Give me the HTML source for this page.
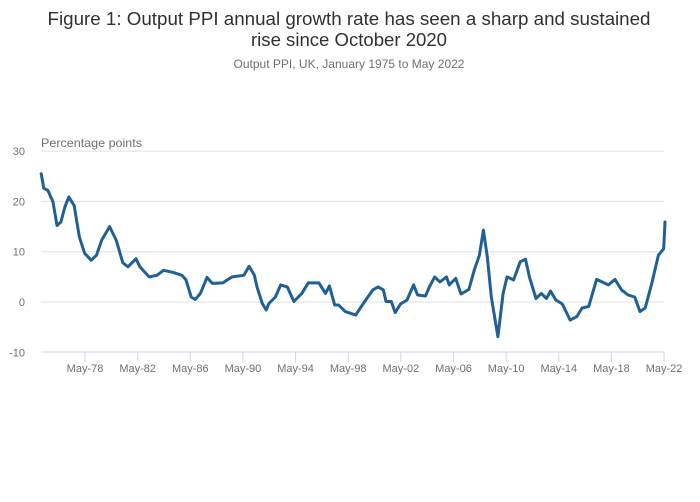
<!DOCTYPE html>
<html><head><meta charset="utf-8"><style>
html,body{margin:0;padding:0;background:#fff;}
svg{display:block;font-family:"Liberation Sans",sans-serif;}
</style></head><body>
<svg id="chart" width="700" height="502" viewBox="0 0 700 502">
<text x="349" y="25" text-anchor="middle" font-size="18" fill="#323132" textLength="603" lengthAdjust="spacingAndGlyphs">Figure 1: Output PPI annual growth rate has seen a sharp and sustained</text>
<text x="349" y="46" text-anchor="middle" font-size="18" fill="#323132" textLength="196" lengthAdjust="spacingAndGlyphs">rise since October 2020</text>
<text x="349" y="68" text-anchor="middle" font-size="12" fill="#707071" textLength="231" lengthAdjust="spacingAndGlyphs">Output PPI, UK, January 1975 to May 2022</text>
<text x="41" y="147" font-size="12" fill="#707071" textLength="101" lengthAdjust="spacingAndGlyphs">Percentage points</text>
<g id="grid"></g><g id="xaxis"></g><g id="series"></g>
</svg>
<script>
const years=[1975.0,1975.2,1975.5,1975.9,1976.2,1976.5,1976.8,1977.1,1977.5,1977.9,1978.3,1978.8,1979.2,1979.6,1980.2,1980.7,1981.2,1981.6,1982.2,1982.5,1983.2,1983.8,1984.3,1985.0,1985.7,1986.0,1986.4,1986.7,1987.1,1987.6,1988.0,1988.8,1989.5,1990.4,1990.8,1991.2,1991.4,1991.8,1992.1,1992.3,1992.8,1993.2,1993.7,1994.2,1994.8,1995.3,1996.1,1996.6,1996.9,1997.3,1997.6,1998.1,1998.9,1999.4,2000.2,2000.6,2001.0,2001.2,2001.6,2001.9,2002.3,2002.8,2003.3,2003.6,2004.2,2004.5,2004.9,2005.3,2005.8,2006.0,2006.5,2006.9,2007.5,2007.9,2008.3,2008.6,2008.9,2009.2,2009.7,2010.1,2010.4,2010.9,2011.4,2011.8,2012.1,2012.6,2013.0,2013.4,2013.7,2014.1,2014.6,2015.2,2015.7,2016.1,2016.6,2017.2,2018.1,2018.6,2019.1,2019.6,2020.1,2020.5,2020.9,2021.4,2021.9,2022.3,2022.4];
const values=[25.5,22.6,22.2,19.9,15.2,15.9,18.9,20.9,19.2,12.9,9.7,8.3,9.3,12.3,15.0,12.3,7.8,7.0,8.6,7.0,5.0,5.3,6.3,5.9,5.3,4.4,1.0,0.5,1.7,4.9,3.7,3.8,5.0,5.3,7.1,5.3,3.0,-0.3,-1.6,-0.3,1.0,3.4,3.0,0.1,1.7,3.8,3.8,1.7,3.2,-0.6,-0.6,-1.9,-2.6,-0.6,2.4,3.0,2.4,0.1,0.1,-2.1,-0.4,0.4,3.4,1.4,1.2,3.0,5.0,4.0,5.0,3.4,4.7,1.6,2.5,6.3,9.3,14.3,9.0,1.0,-6.9,1.7,5.0,4.4,8.0,8.5,5.0,0.7,1.7,0.7,2.2,0.4,-0.4,-3.6,-2.9,-1.2,-0.9,4.5,3.4,4.5,2.4,1.4,1.0,-1.9,-1.2,3.7,9.3,10.6,15.9];
const yTicks=[30,20,10,0,-10];
const xTickLabels=["May-78","May-82","May-86","May-90","May-94","May-98","May-02","May-06","May-10","May-14","May-18","May-22"];
const xTickYears=[1978.33,1982.33,1986.33,1990.33,1994.33,1998.33,2002.33,2006.33,2010.33,2014.33,2018.33,2022.33];
const NS="http://www.w3.org/2000/svg";
const xs=y=>41.2+(y-1975)*13.16;
const ys=v=>302-v*5.03;
function mk(tag,attrs,parent){const e=document.createElementNS(NS,tag);for(const k in attrs)e.setAttribute(k,attrs[k]);parent.appendChild(e);return e;}
const grid=document.getElementById('grid');
yTicks.forEach(t=>{
  if(t!==-10){const l=mk('line',{x1:41,x2:664,y1:ys(t),y2:ys(t),stroke:'#e0e0e0','stroke-width':1},grid);
  
  }
  const tx=mk('text',{x:25,y:ys(t)+4,'text-anchor':'end','font-size':11,fill:'#707071'},grid);
  tx.textContent=t;
  
  
});
const xa=document.getElementById('xaxis');
const base=mk('line',{x1:41,x2:664,y1:352,y2:352,stroke:'#ccd6eb','stroke-width':1},xa);


xTickYears.forEach((yr,i)=>{
  const x=xs(yr);
  const tk=mk('line',{x1:x,x2:x,y1:352,y2:362,stroke:'#ccd6eb','stroke-width':1},xa);
  
  
  const tx=mk('text',{x:x,y:372,'text-anchor':'middle','font-size':11,fill:'#707071'},xa);
  tx.textContent=xTickLabels[i];
  
  
});
const d=years.map((y,i)=>(i?'L':'M')+xs(y).toFixed(1)+','+ys(values[i]).toFixed(1)).join(' ');
const p=mk('path',{d:d,fill:'none',stroke:'#206095','stroke-width':3,'stroke-linejoin':'round','stroke-linecap':'round'},document.getElementById('series'));


</script>
</body></html>
